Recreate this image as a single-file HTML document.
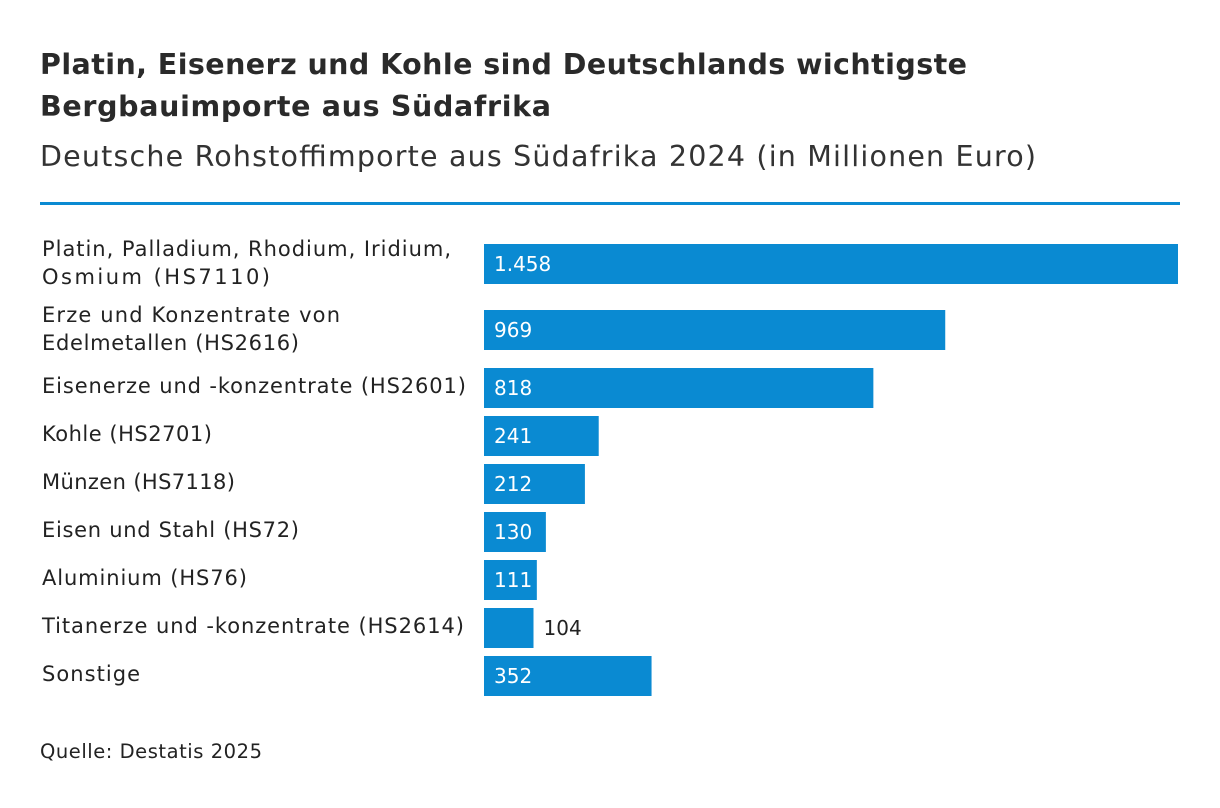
<!DOCTYPE html>
<html><head><meta charset="utf-8">
<style>
body{margin:0;width:1220px;height:808px;background:#fff;font-family:"DejaVu Sans","Liberation Sans",sans-serif;color:#222;position:relative;overflow:hidden}
.rule{position:absolute;left:40px;top:202px;width:1140px;height:3px;background:#0a8ad2}
svg{position:absolute;left:0;top:0}
</style></head><body>
<div class="rule"></div>
<svg id="chart" width="1220" height="808" font-family="DejaVu Sans, Liberation Sans, sans-serif">
<text x="40" y="74" font-size="28.5" font-weight="bold" fill="#2a2a2a" textLength="927" lengthAdjust="spacing">Platin, Eisenerz und Kohle sind Deutschlands wichtigste</text>
<text x="40" y="116" font-size="28.5" font-weight="bold" fill="#2a2a2a" textLength="511" lengthAdjust="spacing">Bergbauimporte aus Südafrika</text>
<text x="40" y="166" font-size="28.5" fill="#333" textLength="996" lengthAdjust="spacing">Deutsche Rohstoffimporte aus Südafrika 2024 (in Millionen Euro)</text>
<text x="40" y="758" font-size="19.5" fill="#222" textLength="222" lengthAdjust="spacing">Quelle: Destatis 2025</text>
</svg>
<script>
const categories=[["Platin, Palladium, Rhodium, Iridium,","Osmium (HS7110)"],["Erze und Konzentrate von","Edelmetallen (HS2616)"],["Eisenerze und -konzentrate (HS2601)"],["Kohle (HS2701)"],["Münzen (HS7118)"],["Eisen und Stahl (HS72)"],["Aluminium (HS76)"],["Titanerze und -konzentrate (HS2614)"],["Sonstige"]];
const values=[1458,969,818,241,212,130,111,104,352];
const valueLabels=["1.458","969","818","241","212","130","111","104","352"];
const labelWidths=[[409,228],[298,257],[424],[170],[193],[257],[205],[422],[98]];
const svg=document.getElementById('chart');
const NS="http://www.w3.org/2000/svg";
const x0=484,maxW=694,maxV=1458;
function xs(v){return v/maxV*maxW;}
let y=244;
categories.forEach((lab,i)=>{
  const two=lab.length>1;
  const r=document.createElementNS(NS,'rect');
  r.setAttribute('x',x0);r.setAttribute('y',y);r.setAttribute('width',xs(values[i]));r.setAttribute('height',40);r.setAttribute('fill','#0a8ad2');
  
  
  svg.appendChild(r);
  const t=document.createElementNS(NS,'text');
  const inside=xs(values[i])>52;
  t.setAttribute('x',inside?x0+10:x0+xs(values[i])+10);t.setAttribute('y',y+27);
  t.setAttribute('font-size','20');t.setAttribute('fill',inside?'#fff':'#222');
  t.textContent=valueLabels[i];
  
  
  svg.appendChild(t);
  lab.forEach((l,j)=>{
    const c=document.createElementNS(NS,'text');
    c.setAttribute('x',42);
    c.setAttribute('y',two?y+12+j*28:y+25);
    c.setAttribute('font-size','21');c.setAttribute('fill','#222');
    c.setAttribute('textLength',labelWidths[i][j]);c.setAttribute('lengthAdjust','spacing');
    c.textContent=l;
    
    
    svg.appendChild(c);
  });
  y+= i===0?66:(two?58:48);
});
</script>
</body></html>
